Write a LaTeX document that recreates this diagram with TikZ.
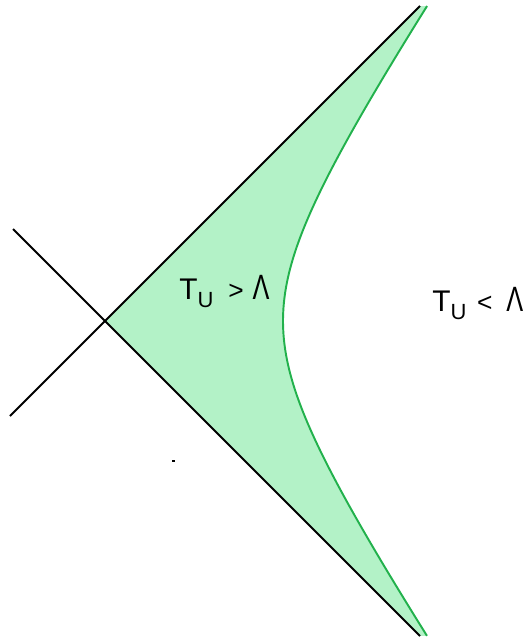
\documentclass[tikz,border=0pt]{standalone}
\usepackage{fontspec}
\setmainfont{Liberation Sans}
\usepackage{tikz}
\usetikzlibrary{positioning}
\definecolor{Mint}{HTML}{B3F2C7}
\definecolor{Edge}{HTML}{22B14C}
\newcommand{\Tsub}{T\raisebox{-5pt}{\fontsize{12.5}{13}\selectfont U}}
\newcommand{\Lam}{\scalebox{0.72}[1]{\fontsize{20}{21}\selectfont Λ}}

\begin{document}
\begin{tikzpicture}[x=0.02cm,y=-0.02cm,
    every node/.style={inner sep=0pt,font=\fontsize{17}{19}\selectfont},
    axis/.style={black,line width=1.1pt},
    branch/.style={Edge,line width=1.1pt}]
  \useasboundingbox (0,0) rectangle (524,639);
  \coordinate (o) at (105,321);
  \coordinate (nw) at (13,229);
  \coordinate (sw) at (10,416);
  \coordinate (ne) at (420,6);
  \coordinate (se) at (420,636);
  \fill[Mint] (o) -- (ne) -- plot[domain=-1.6644:1.6644,samples=80,smooth] ({200+41.5*(exp(\x)+exp(-\x))},{321+61.85*(exp(\x)-exp(-\x))}) -- (se) -- cycle;
  \draw[branch] plot[domain=-1.6644:1.6644,samples=80,smooth] ({200+41.5*(exp(\x)+exp(-\x))},{321+61.85*(exp(\x)-exp(-\x))});
  \draw[axis] (nw)--(se);
  \draw[axis] (sw)--(ne);
  \node[anchor=base west] (inside) at (179,299) {\Tsub\hspace{8.5pt}{\fontsize{15}{16}\selectfont >}\hspace{5pt}\Lam};
  \node[anchor=base west] (outside) at (432,311) {\Tsub\hspace{6pt}{\fontsize{15}{16}\selectfont <}\hspace{8pt}\Lam};
  \fill (172,460) rectangle (175,462);
\end{tikzpicture}
\end{document}
